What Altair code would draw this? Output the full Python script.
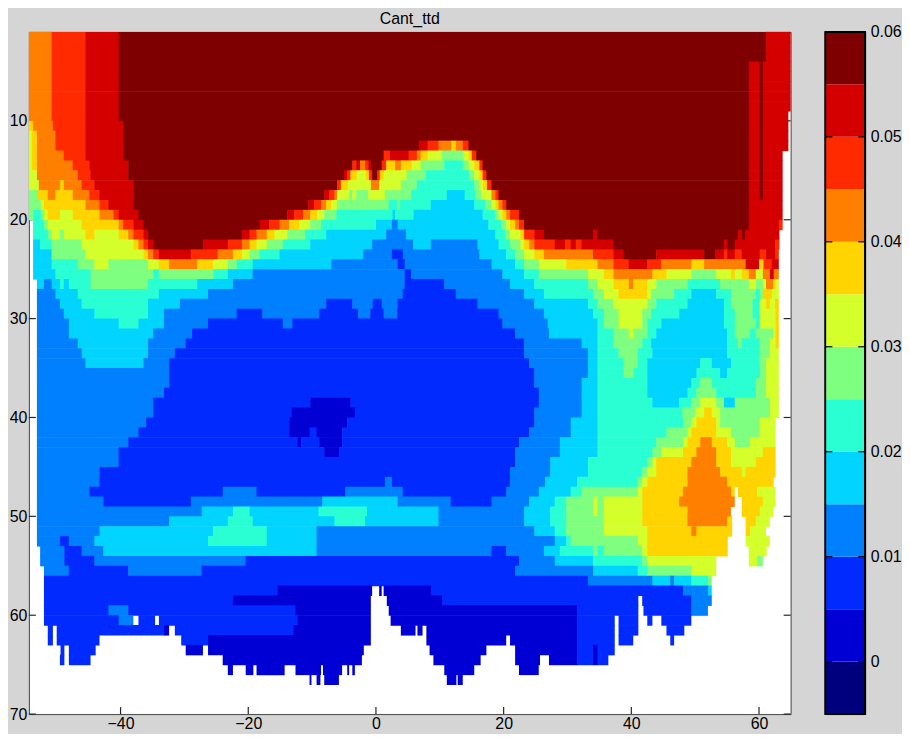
import altair as alt
import pandas as pd

# Contour bands, lowest to highest (band index -> colour)
band_colors = ["#00007f", "#0000d4", "#002aff", "#007fff", "#00d4ff", "#2affd4", "#7fff7f",
               "#d4ff2a", "#ffd400", "#ff7f00", "#ff2a00", "#d40000", "#7f0000"]
band_edges = [-0.005, 0, 0.005, 0.01, 0.015, 0.02, 0.025, 0.03, 0.035, 0.04, 0.045, 0.05, 0.055, 0.06]

lat_min, lat_max = -54.36, 64.95
depth_min, depth_max = 1, 70
lat_ticks = [-40, -20, 0, 20, 40, 60]
depth_ticks = [10, 20, 30, 40, 50, 60, 70]
bar_ticks = [0, 0.01, 0.02, 0.03, 0.04, 0.05, 0.06]

W = -1  # no data
# Each depth row, starting at depth 1: band, right-hand latitude of the run, band, latitude, ...
r1 = [9,-50.8,10,-45.5,11,-40.3,12,61.1,11,65]
r4 = [9,-50.8,10,-45.5,11,-40.3,12,58.4,11,60.1,12,60.6,11,65]
r9 = [9,-50.8,10,-45.5,11,-40.3,12,58.4,11,60.1,12,60.6,11,64.6]
r10 = [8,-53.7,9,-50.6,10,-45.5,11,-39.6,12,58.4,11,60.1,12,60.6,11,64.6]
r11 = [7,-53.9,8,-53.1,9,-50.2,10,-45.5,11,-39.6,12,58.4,11,60.1,12,60.6,11,64.6]
rows = [
 r1, r1, r1, r4, r4, r4, r4, r4, r9, r10, r11,
 [7,-53.9,8,-53.1,9,-50.2,10,-45.5,11,-39.6,12,6.7,11,8.1,10,9.8,9,11.8,8,12.5,9,13.6,10,14.5,12,58.4,11,60.1,12,60.6,11,64.6],
 [7,-53.9,8,-53.1,9,-48.9,10,-45.5,11,-39.6,12,1.2,10,2.2,11,5.1,10,6.4,9,7,8,8.1,7,10.3,6,13.7,7,14.5,8,15,10,15.7,12,58.4,11,60.1,12,60.6,11,63.7],
 [7,-53.9,8,-53.1,9,-47.5,10,-44.9,11,-38.8,12,-3.7,10,-3.1,11,-2.5,9,-1.7,10,-1.2,11,-0.8,12,0.9,10,1.6,8,3,9,3.9,8,5.6,7,7,6,10.7,5,13.6,6,14.5,7,15.4,8,16.2,10,16.7,12,58.4,11,60.1,12,60.6,11,63.7],
 [7,-53.1,9,-46.7,10,-44.7,11,-38.8,12,-5,11,-4.5,10,-4,8,-3,7,-1.6,8,-1.1,10,-0.6,12,0.2,10,0.6,8,1.2,7,4.8,6,7.8,5,14.6,6,15.4,7,16.2,8,16.7,10,17.3,12,58.4,11,60.1,12,60.6,11,63.7],
 [7,-52.8,9,-49.5,8,-48.9,9,-46.1,10,-44.1,11,-38,12,-6.1,10,-5.5,8,-4.4,7,-0.8,9,0.5,7,3.9,6,6.4,5,15.4,6,16.2,7,16.8,8,17.4,10,18.1,12,58.4,11,60.1,12,60.6,11,63.7],
 [6,-53,8,-51.4,9,-50.2,8,-47.5,9,-44.9,10,-43.3,11,-38,12,-8.1,11,-7.3,10,-6.5,9,-6.1,7,-4.2,6,-3.7,7,-3.1,6,-1.2,7,1.4,6,5.5,5,11.1,4,13.9,5,15.6,6,16.5,7,18.1,9,18.7,10,19.2,12,58.4,11,60.1,12,60.6,11,63.7],
 [6,-52.5,7,-52,8,-45.5,9,-43.3,10,-41.9,11,-38,12,-10.6,11,-9.7,10,-8.6,9,-7.8,8,-7,7,-6.1,6,2,5,3.3,6,3.7,5,8.6,4,15.4,5,17.1,6,18.1,7,18.7,8,19.2,9,19.8,10,20.4,12,58.4,11,63.7],
 [6,-53.7,5,-52.5,6,-52,7,-51.4,8,-49.5,7,-47.5,8,-43.3,9,-41.1,10,-40.3,11,-37.2,12,-13.9,11,-12.8,10,-11.4,9,-10.3,8,-9.2,7,-8.1,6,-6.2,5,2.6,4,3,5,5.9,4,16.7,5,18.7,6,19.2,7,19.8,8,20.4,9,21,10,22.4,12,58.4,11,63.7],
 [W,-53.7,5,-52,6,-51.4,7,-46.1,8,-40.3,9,-39.6,10,-38,11,-36.4,12,-18.2,11,-16.7,10,-15.1,9,-13.6,8,-12,7,-10.3,6,-8.6,5,0,4,2.5,3,3.4,4,17.6,5,19.6,6,20.4,7,21,8,21.8,9,22.4,10,23.2,12,58.4,11,63.1,10,63.7],
 [W,-53.7,5,-51.4,6,-50.8,7,-49.5,6,-48.9,7,-45.5,8,-44.1,7,-40.3,8,-38.8,9,-38,10,-36.4,11,-35.7,12,-21,11,-19.8,10,-18.7,9,-17.1,8,-15.9,7,-13.9,6,-11.1,5,-7.8,4,1.6,3,4.7,4,18.7,5,20.2,6,21,7,22.6,8,23.2,10,24.8,11,26.3,12,34,11,34.7,12,56.7,11,57.3,12,57.8,11,63.2],
 [W,-53.7,4,-52.6,5,-50.8,6,-46.1,7,-38,8,-37.2,9,-36.4,10,-35.7,11,-34.9,12,-27.1,11,-23.2,10,-21,9,-19.8,8,-18.7,7,-17.1,6,-14.6,5,-10.3,4,-0.6,3,5.8,4,8.6,3,15.9,4,19.2,5,21,6,22.6,7,23.2,8,24,9,24.8,10,28,11,29.6,10,30.5,11,31.3,10,32.2,11,37.2,12,54.5,11,55,12,56.2,11,62.5,10,63.2],
 [W,-53.7,4,-50.8,6,-45.5,7,-36.4,8,-35.7,9,-34.9,10,-34,11,-29,10,-24.8,9,-22.4,8,-21,7,-19.8,6,-18.2,5,-15.1,4,-2,3,2.5,2,4.2,3,16.2,4,20.4,5,21.8,6,23.2,7,24.8,8,26.3,9,34,10,37.2,11,38.8,12,43.9,11,51.4,12,53.1,11,54.5,10,55,11,56.2,10,57.3,11,60.1,10,61.1,11,62.5,10,63.1],
 [W,-53.7,4,-50.8,5,-46.7,6,-44.1,7,-41.9,6,-35.7,7,-34,8,-32.4,9,-28,8,-25.5,7,-23.2,6,-21.8,5,-19.3,4,-7,3,3.4,2,4.5,3,18.1,4,21.8,5,23.2,6,25.5,7,29.8,8,34.7,9,37.2,10,39.6,11,42.5,10,44.7,9,49.4,8,51.4,9,57.9,11,60,8,60.7,10,62,11,63.1],
 [W,-53.7,4,-50.2,5,-44.7,6,-34.9,5,-34,6,-25.5,5,-23.2,4,-19.3,3,4.5,2,5.5,3,19.8,4,23.2,5,25.5,6,33.2,7,35.7,8,37.2,9,43.3,8,45.5,7,49.4,6,53.3,7,55.6,8,56.2,7,57.3,8,58.4,9,59.5,7,60.6,9,61.7,11,62.3,9,63.1],
 [W,-53.1,4,-52,3,-50.8,4,-49.5,5,-48.9,4,-48.1,5,-44.7,6,-35.7,5,-28,4,-22.4,3,4.5,2,10.7,3,21,4,24.8,5,33.2,6,34.7,7,37.2,8,39.6,9,40.3,8,42.5,7,43.9,6,48.8,5,53.9,6,58.4,7,59.5,6,60.6,7,61.1,9,62.2,8,62.6,7,63.1],
 [W,-53.1,3,-50.2,4,-46.7,5,-34,4,-26.3,3,4.2,2,12.5,3,23.2,4,26.3,5,34,6,35.7,7,38,8,42.5,7,43.1,6,46.7,5,49.4,4,53.3,5,55.6,6,59.5,5,60.1,6,60.6,8,62,7,63.1],
 [W,-53.1,3,-49.5,4,-46.1,5,-35.7,4,-30.7,3,-7.8,2,-3.7,3,-0.5,2,0.9,3,3.4,2,15.9,3,24.8,4,33.2,5,34.7,6,37.2,7,42.5,6,43.9,5,48.8,4,54.5,5,55.6,6,59,5,60.1,7,61.1,8,61.7,7,62.5,8,63.1],
 [W,-53.1,3,-48.9,4,-44.1,5,-35.7,4,-33.2,3,-21.8,2,-17.8,3,-8.9,2,-2.8,3,-0.9,2,1.2,3,3.3,2,19.2,3,26.3,4,34,5,35.7,6,38,7,41.7,6,43.1,5,47.5,4,54.5,5,56.2,6,59,5,60.1,7,62.6,8,63.1],
 [W,-53.1,3,-48.1,4,-40.3,5,-37.2,4,-33.2,3,-26.3,2,-14.6,3,-13.1,2,19.8,3,26.9,4,34.7,5,35.7,6,38,7,41.7,6,42.5,5,44.7,4,54.5,5,56.2,6,59.5,5,60.1,7,62.6,8,63.1],
 [W,-53.1,3,-48.1,4,-34.9,3,-28.8,2,21.8,3,27.1,4,34.7,5,37.2,6,39.6,7,40.3,6,42.5,5,43.9,4,55,5,56.2,6,58.6,5,59.5,6,62.2,7,62.6,8,63.1],
 [W,-53.1,3,-46.7,4,-35.7,3,-29.8,2,23.2,3,32.2,4,34.7,5,37.2,6,41.7,5,43.1,4,55,5,56.7,6,57.3,5,60.1,6,61.7,7,62.6,8,63.1],
 [W,-53.1,3,-46.1,4,-35.7,3,-31.5,2,23.2,3,33.2,4,34.7,5,38,6,41,5,43.3,4,55,5,60.1,6,61.7,7,63.1],
 [W,-53.1,3,-45.5,4,-36.4,3,-32.4,2,24,3,33.2,4,34.7,5,38.8,6,41,5,42.5,4,50.8,5,52.6,4,55.6,5,60.1,6,61.1,7,63.1],
 [W,-53.1,3,-32.4,2,24.8,3,33.2,4,34.7,5,38.8,6,40.3,5,42.5,4,50.2,5,53.9,4,55,5,60.1,6,61.1,7,63.1],
 [W,-53.1,3,-32.4,2,24.8,3,32.2,4,34.7,5,42.5,4,49.4,5,50.8,6,52.6,5,59.5,6,61.1,7,63.1],
 [W,-53.1,3,-33.2,2,25.5,3,32.2,4,34.7,5,42.5,4,48.8,5,50.2,6,53.3,5,59.5,6,61.1,7,63.1],
 [W,-53.1,3,-34.9,2,-10.3,1,-4,2,25.5,3,32.2,4,34.7,5,43.3,4,47.5,5,49.4,6,50.8,7,53.3,6,54.5,4,56.2,6,61.7,7,63.1],
 [W,-53.1,3,-34.9,2,-13.2,1,-3.3,2,24.8,3,32.2,4,34.7,5,48,6,50,7,51.4,8,52.6,7,53.9,6,61.7,7,63.1],
 [W,-53.1,3,-36,2,-13.6,1,-4.5,2,24.8,3,30.5,4,34.7,5,48.1,6,49.4,7,50.2,8,53.3,7,53.9,6,60.1,7,62.6],
 [W,-53.1,3,-37.2,2,-13.6,1,-10.4,2,-9.3,1,-5.3,2,24,3,30.5,4,34.7,5,45.5,6,48.8,7,49.4,8,53.3,7,55.6,6,60.1,7,62.6],
 [W,-53.1,3,-38.8,2,-12.3,1,-11.7,2,-8.9,1,-5.3,2,22.4,3,28.8,4,34.7,5,43.9,6,48.1,7,48.8,8,50.8,9,52.6,8,55,7,56.2,6,58.6,7,62.6],
 [W,-53.1,3,-40.3,2,-8.1,1,-5.8,2,21.8,3,28.8,4,34.7,5,43.3,6,44.7,7,48.1,8,50.2,9,53.3,8,55.6,7,60.6,8,62.6],
 [W,-53.1,3,-40.3,2,21.8,3,27.3,4,33.2,5,42.5,6,43.3,7,43.9,8,49.4,9,53.3,8,55.6,7,59.5,8,62.6],
 [W,-53.1,3,-43.3,2,21,3,27.3,4,33.2,5,41.7,6,42.5,7,43.9,8,48.8,9,53.9,8,57.3,7,57.9,8,62.6],
 [W,-53.1,3,-43.3,2,1.4,3,2.5,2,21,3,26.5,4,31.5,5,41,6,41.7,7,42.5,8,48.8,9,55,8,62.3],
 [W,-53.1,3,-44.9,2,-24,3,-18.7,2,-4.8,3,4.2,2,20.4,3,25.5,4,30.5,5,32.2,6,41,7,41.7,8,48.1,9,55.6,8,56.2,W,56.7,8,59.7,7,62.6],
 [W,-53.1,3,-42.7,2,-29,3,-8.4,4,3.4,3,11.7,2,18.1,3,24,4,28,5,29.8,6,34,7,34.7,6,35.7,7,41.7,8,47.5,9,56.2,W,57.3,8,60.6,7,62.6],
 [W,-53.1,3,-27.3,4,-22.4,5,-19.8,4,-9,5,-1.4,4,9.8,3,23.2,4,27.3,5,29.8,6,34,7,34.7,6,35.7,7,41.7,8,48.8,9,55.6,W,57.3,8,60.1,7,62.2],
 [W,-53.1,3,-32.4,4,-23.2,5,-19.3,4,-6.5,5,-1.7,4,9.8,3,23.2,4,27.3,5,29.8,6,35.7,7,41.7,8,48.8,9,55,8,55.8,W,57.9,8,59.5,7,61.7],
 [W,-53.1,3,-43.3,4,-25.5,5,-17.1,4,-9.3,3,24.8,4,28,5,29.8,6,35.7,7,42.5,8,49.4,9,50.2,8,55.8,W,57.9,8,58.6,7,61.1],
 [W,-53.1,3,-49.5,2,-48.1,3,-44.1,4,-26.3,5,-17.1,4,-9.3,3,28,4,29.8,5,30.5,6,41,7,42.5,8,55.1,W,57.9,7,61.7],
 [W,-52.6,3,-48.8,2,-46.1,3,-42.7,4,-9.3,3,18.1,2,20.4,3,26.3,4,28.8,5,34,6,34.7,5,35.7,6,41.7,7,42.5,8,55.1,W,58.4,7,61.2],
 [W,-52.6,3,-48.8,2,-44.1,3,-20.4,2,22.4,3,28,4,34,5,41.7,6,42.5,7,53.3,W,58.4,7,59.7,6,60.6],
 [W,-52,3,-48.1,2,-38.8,3,-27.3,2,21.8,3,34,4,41,5,42.5,6,49.4,7,53.3],
 [W,-52,2,33.2,3,43.3,4,46.1,3,46.7,4,49.4,5,52,6,52.6],
 [W,-52,2,-15.4,1,-0.6,W,0.5,1,0.9,W,1.2,1,8.6,2,48.1,3,52,4,52.6],
 [W,-52,2,-22.4,1,-0.8,W,1.7,1,10.4,2,41.1,W,41.7,2,49.4,3,52.6],
 [W,-52,2,-41.9,3,-38.8,2,-12.6,1,-0.8,W,2,1,31.5,2,41.1,W,41.9,2,49.4,3,52],
 [W,-52,2,-40.3,3,-38,W,-37.2,2,-34.6,W,-34,2,-12.3,1,-0.8,W,2.3,1,31.5,2,37.4,W,38,2,41.1,W,42.5,2,43.3,W,44.7,2,49.4],
 [W,-51.4,2,-50.6,W,-50,2,-33.2,1,-32.4,W,-31.5,2,-12.9,1,-0.8,W,3.9,1,6.2,W,6.5,1,7.3,W,7.9,1,31.5,2,37.4,W,38,2,41.1,W,45.5,2,48.3],
 [W,-51.4,2,-50.6,W,-50,2,-43.3,W,-30.5,2,-26.3,1,-0.8,W,7.9,1,20.4,W,21,1,31.5,2,37.4,W,38,2,40.3,W,46.1,2,46.7],
 [W,-49.4,2,-48.8,W,-48.1,2,-43.9,W,-29.8,1,-27.1,W,-26.3,1,-1.9,W,8.4,1,17.3,W,21.8,1,31.5,2,34,1,34.7,2,37.4],
 [W,-49.5,2,-48.8,W,-48.1,2,-44.7,W,-24,1,-2.2,W,9,1,16.4,W,21.8,1,25.7,W,27.1,1,31.5,2,34,1,34.7,2,36.4],
 [W,-23.2,1,-22.4,W,-20.4,1,-19.2,W,-18.7,1,-14.3,W,-12.6,1,-8.6,W,-8.3,1,-5.3,W,-4.5,1,-4.2,W,-3.7,1,-3.3,W,10.7,1,15.4,W,22.4,1,25.5],
 [W,-10.4,1,-10.1,W,-9.3,1,-8.7,W,-8.1,1,-5.8,W,11.1,1,12.6,W,12.8,1,13.6],
]

OVERLAP_LAT, OVERLAP_DEPTH = 0.08, 0.06  # runs overlap slightly so no seams show between them
cells = []
for i, row in enumerate(rows):
    left = lat_min
    pairs = list(zip(row[0::2], row[1::2]))
    for j, (band, right) in enumerate(pairs):
        if band >= 0:
            has_next = j + 1 < len(pairs) and pairs[j + 1][0] >= 0
            r = right + OVERLAP_LAT if has_next else right
            cells.append({"lat0": left, "lat1": min(r, lat_max), "d0": i + 1,
                          "d1": i + 2 + OVERLAP_DEPTH, "band": band})
        left = right
cells = pd.DataFrame(cells)

FONT = "Liberation Sans"
AX = "#262626"
LABEL = 16
x_scale = alt.Scale(domain=[lat_min, lat_max], nice=False, zero=False)
y_scale = alt.Scale(domain=[depth_max, depth_min], nice=False, zero=False)
band_scale = alt.Scale(domain=list(range(13)), range=band_colors)
x_axis = alt.Axis(values=lat_ticks, tickSize=0, domain=False, grid=False, labelFont=FONT,
                  labelFontSize=LABEL, labelColor="#000", labelPadding=1, title=None)
y_axis = alt.Axis(values=depth_ticks, tickSize=0, domain=False, grid=False, labelFont=FONT,
                  labelFontSize=LABEL, labelColor="#000", labelPadding=2, title=None)

x_ticks_df = pd.DataFrame({"lat": lat_ticks})
y_ticks_df = pd.DataFrame({"depth": depth_ticks})

PW, PH = 766, 686
bottom_ticks = alt.Chart(x_ticks_df).mark_rule(color=AX, strokeWidth=1.2).encode(
    x=alt.X("lat:Q", scale=x_scale, axis=x_axis), y=alt.value(PH), y2=alt.value(PH - 7))
left_ticks = alt.Chart(y_ticks_df).mark_rule(color=AX, strokeWidth=1.2).encode(
    y=alt.Y("depth:Q", scale=y_scale, axis=y_axis), x=alt.value(0), x2=alt.value(7))
right_ticks = alt.Chart(y_ticks_df).mark_rule(color=AX, strokeWidth=1.2).encode(
    y=alt.Y("depth:Q", scale=y_scale, axis=y_axis), x=alt.value(PW - 7), x2=alt.value(PW))

field = alt.Chart(cells).mark_rect().encode(
    x=alt.X("lat0:Q", scale=x_scale, axis=x_axis),
    x2="lat1:Q",
    y=alt.Y("d0:Q", scale=y_scale, axis=y_axis),
    y2="d1:Q",
    fill=alt.Fill("band:O", scale=band_scale, legend=None),
)

title = alt.TitleParams("Cant_ttd", font=FONT, fontSize=16, fontWeight="normal", color="#000", offset=5)
main = alt.layer(bottom_ticks, left_ticks, right_ticks, field).properties(width=PW, height=PH, title=title)

bar_df = pd.DataFrame({"lo": band_edges[:-1], "hi": band_edges[1:], "band": list(range(13))})
bar_scale = alt.Scale(domain=[band_edges[0], band_edges[-1]], nice=False, zero=False)
bar_axis = alt.Axis(orient="right", values=bar_ticks, tickSize=0, domain=False, grid=False, title=None,
                    labelFont=FONT, labelFontSize=LABEL, labelColor="#000", labelPadding=5,
                    labelExpr="datum.value == 0 ? '0' : format(datum.value, '.2f')")
bar_rects = alt.Chart(bar_df).mark_rect().encode(
    y=alt.Y("lo:Q", scale=bar_scale, axis=bar_axis),
    y2="hi:Q",
    x=alt.value(0), x2=alt.value(40),
    fill=alt.Fill("band:O", scale=band_scale, legend=None),
)
bar_ticks_df = pd.DataFrame({"v": bar_ticks})
bar_left = alt.Chart(bar_ticks_df).mark_rule(color="#000", strokeWidth=1.2).encode(
    y=alt.Y("v:Q", scale=bar_scale, axis=bar_axis), x=alt.value(0), x2=alt.value(7))
bar_right = alt.Chart(bar_ticks_df).mark_rule(color="#000", strokeWidth=1.2).encode(
    y=alt.Y("v:Q", scale=bar_scale, axis=bar_axis), x=alt.value(33), x2=alt.value(40))
bar_frame = alt.Chart(bar_ticks_df).mark_rect(fillOpacity=0, stroke="#000", strokeWidth=1.2).encode(
    x=alt.value(0), x2=alt.value(40), y=alt.value(0), y2=alt.value(PH))
bar = alt.layer(bar_rects, bar_left, bar_right, bar_frame).properties(width=40, height=PH)

chart = (
    alt.hconcat(main, bar, spacing=31)
    .resolve_scale(fill="independent")
    .properties(padding=0, background="#d5d5d5")
    .configure_view(fill="#ffffff", stroke="#444444", strokeWidth=1)
)

chart.save("out.html", embed_options={"renderer": "svg", "actions": False})
